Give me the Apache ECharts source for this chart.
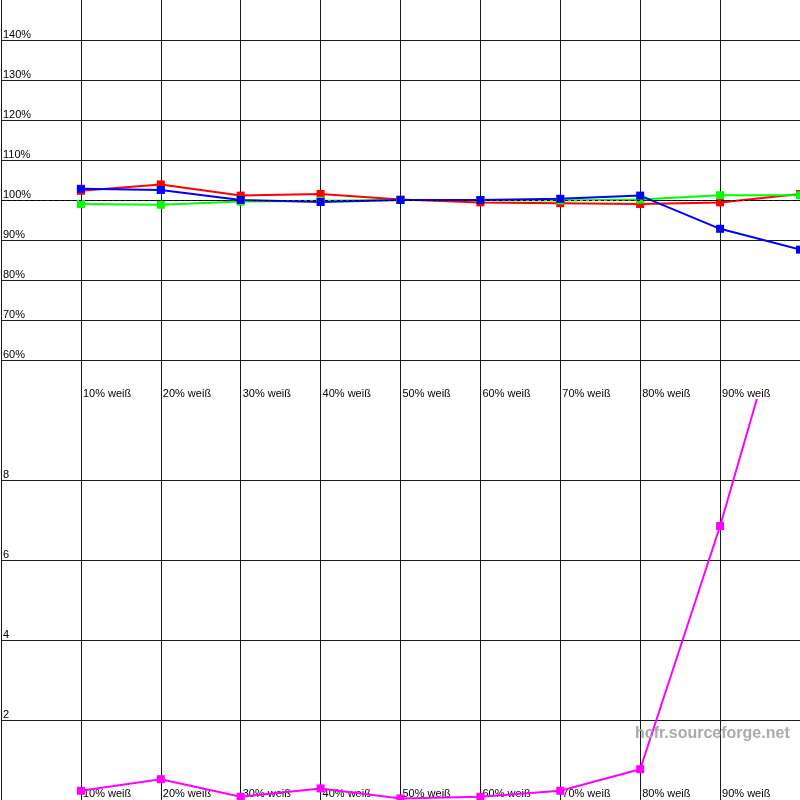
<!DOCTYPE html>
<html>
<head>
<meta charset="utf-8">
<script src="https://cdn.jsdelivr.net/npm/echarts@6/dist/echarts.min.js"></script>
<style>
html,body{margin:0;padding:0;background:#fff;}
#c{width:800px;height:800px;}
</style>
</head>
<body>
<div id="c"></div>
<script>
var categories = ['10% weiß','20% weiß','30% weiß','40% weiß','50% weiß','60% weiß','70% weiß','80% weiß','90% weiß','100% weiß'];
var redValues = [102.3, 103.9, 101.1, 101.5, 100.1, 99.4, 99.2, 99.0, 99.4, 101.5];
var greenValues = [99.0, 98.8, 99.6, 99.8, 100.0, 100.0, 99.9, 100.1, 101.2, 101.2];
var blueValues = [102.8, 102.5, 100.0, 99.5, 100.0, 100.0, 100.3, 101.1, 92.8, 87.6];
var magentaValues = [0.23, 0.52, 0.08, 0.29, 0.04, 0.08, 0.23, 0.77, 6.85, 13.75];
var referenceLevel = 100;
var watermark = 'hcfr.sourceforge.net';

function pts(arr){ return arr.map(function(v,i){ return [i+1, v]; }); }

var gridColor = '#141c1c';
var labelFont = {color:'#000', fontSize:11, fontFamily:'Liberation Sans'};

function xAxisFor(gi){
  return {
    type:'value', gridIndex:gi, min:0, max:categories.length, interval:1,
    axisLine:{show:false}, axisTick:{show:false},
    splitLine:{show:true, showMinLine:true, showMaxLine:false, lineStyle:{color:gridColor, width:1}},
    axisLabel:Object.assign({
      show:true, inside:true, align:'left', margin:1, padding:[0,0,0,2],
      showMinLabel:false, showMaxLabel:false,
      formatter:function(v){ return categories[v-1] || ''; }
    }, labelFont)
  };
}

var chart = echarts.init(document.getElementById('c'), null, {renderer:'canvas'});
chart.setOption({
  animation:false,
  backgroundColor:'#fff',
  grid:[
    {left:0, right:0, top:0, height:400, containLabel:false},
    {left:0, right:0, top:400, height:400, containLabel:false}
  ],
  xAxis:[xAxisFor(0), xAxisFor(1)],
  yAxis:[
    {type:'value', gridIndex:0, min:50, max:150, interval:10,
     axisLine:{show:false}, axisTick:{show:false},
     splitLine:{show:true, showMinLine:false, showMaxLine:false, lineStyle:{color:gridColor, width:1}},
     axisLabel:Object.assign({inside:true, align:'left', verticalAlign:'bottom', margin:2,
       showMinLabel:false, showMaxLabel:false, formatter:function(v){return v+'%';}}, labelFont)},
    {type:'value', gridIndex:1, min:0, max:10, interval:2,
     axisLine:{show:false}, axisTick:{show:false},
     splitLine:{show:true, showMinLine:false, showMaxLine:false, lineStyle:{color:gridColor, width:1}},
     axisLabel:Object.assign({inside:true, align:'left', verticalAlign:'bottom', margin:2,
       showMinLabel:false, showMaxLabel:false}, labelFont)}
  ],
  series:[
    {type:'line', xAxisIndex:0, yAxisIndex:0, data:pts(redValues), symbol:'rect', symbolSize:8,
     lineStyle:{color:'#ff0000', width:2}, itemStyle:{color:'#ff0000'},
     markLine:{silent:true, symbol:'none', label:{show:false},
       lineStyle:{color:'#000', type:[3,3], width:1}, data:[{yAxis:referenceLevel}]}},
    {type:'line', xAxisIndex:0, yAxisIndex:0, data:pts(greenValues), symbol:'rect', symbolSize:8,
     lineStyle:{color:'#00ff00', width:2}, itemStyle:{color:'#00ff00'}},
    {type:'line', xAxisIndex:0, yAxisIndex:0, data:pts(blueValues), symbol:'rect', symbolSize:8,
     lineStyle:{color:'#0000ff', width:2}, itemStyle:{color:'#0000ff'}},
    {type:'line', xAxisIndex:1, yAxisIndex:1, data:pts(magentaValues), symbol:'rect', symbolSize:8,
     clip:true,
     lineStyle:{color:'#ff00ff', width:2}, itemStyle:{color:'#ff00ff'}}
  ],
  graphic:[
    {type:'text', left:635, top:726, z:100,
     style:{text:watermark, font:'bold 16px "Liberation Sans"', fill:'#aaaaaa'}}
  ]
});
</script>
</body>
</html>
